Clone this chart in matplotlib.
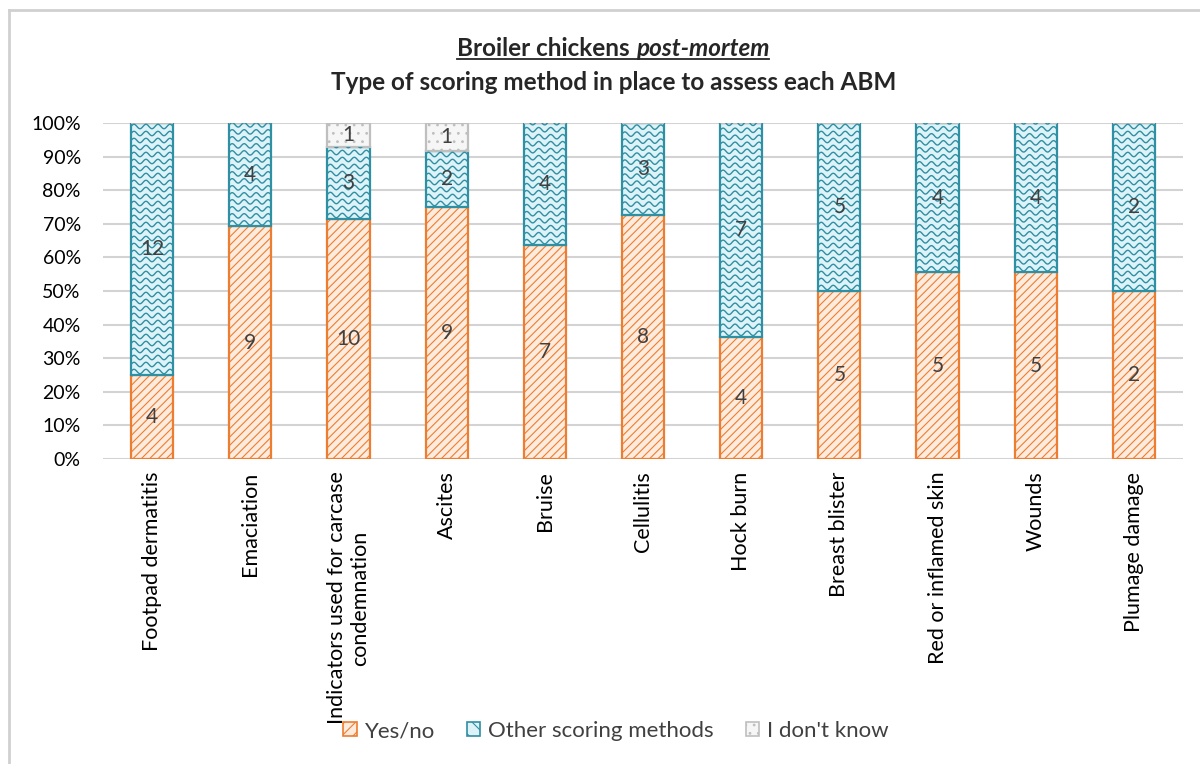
import numpy as np
import matplotlib
matplotlib.use("Agg")
import matplotlib.pyplot as plt
from matplotlib.patches import Patch
from matplotlib.collections import LineCollection
from matplotlib.lines import Line2D

plt.rcParams['font.family'] = ['Lato', 'DejaVu Sans']
plt.rcParams['hatch.linewidth'] = 0.8

categories = [
    "Footpad dermatitis", "Emaciation", "Indicators used for carcase\ncondemnation",
    "Ascites", "Bruise", "Cellulitis", "Hock burn", "Breast blister",
    "Red or inflamed skin", "Wounds", "Plumage damage",
]
yes_no = [4, 9, 10, 9, 7, 8, 4, 5, 5, 5, 2]
other_methods = [12, 4, 3, 2, 4, 3, 7, 5, 4, 4, 2]
dont_know = [0, 0, 1, 1, 0, 0, 0, 0, 0, 0, 0]
series_names = ["Yes/no", "Other scoring methods", "I don't know"]
y_ticks = [0, 10, 20, 30, 40, 50, 60, 70, 80, 90, 100]

ORANGE = "#ED7D31"
ORANGE_FILL = "#FDEBDD"
TEAL = "#2F8FA3"
TEAL_FILL = "#DDF3F8"
GREY = "#BFBFBF"
GREY_FILL = "#F6F6F6"
TEXT = "#404040"
TITLE = "#262626"

counts = np.array([yes_no, other_methods, dont_know], dtype=float)
totals = counts.sum(axis=0)
shares = counts / totals * 100

fig = plt.figure(figsize=(12, 7.64), dpi=100)
ax = fig.add_axes([103 / 1200, 1 - 459 / 764, 1080 / 1200, 336 / 764])

x = np.arange(len(categories))
width = 0.43
bottoms = np.zeros(len(categories))
styles = [
    dict(facecolor=ORANGE_FILL, edgecolor=ORANGE, hatch="////"),
    dict(facecolor=TEAL_FILL, edgecolor=TEAL, hatch=None),
    dict(facecolor=GREY_FILL, edgecolor=GREY, hatch=".."),
]
containers = []
for i in range(3):
    bc = ax.bar(x, shares[i], width, bottom=bottoms, linewidth=1.6,
                zorder=3, **styles[i])
    containers.append(bc)
    for j in range(len(categories)):
        if counts[i, j] > 0:
            ax.text(x[j], bottoms[j] + shares[i, j] / 2, f"{int(counts[i, j])}",
                    ha="center", va="center", fontsize=15, color=TEXT, zorder=5)
    bottoms += shares[i]

ax.set_xlim(-0.5, len(categories) - 0.5)
ax.set_ylim(0, 100)
ax.set_yticks(y_ticks)
ax.set_yticklabels([f"{t}%" for t in y_ticks])
ax.set_xticks(x)
ax.set_xticklabels(categories, rotation=90, fontsize=15.5, color="#000000")
ax.tick_params(axis="y", length=0, pad=16, labelsize=14, labelcolor="#000000")
ax.tick_params(axis="x", length=0, pad=9)
ax.grid(axis="y", color="#D3D3D3", linewidth=1.5, zorder=0)
ax.set_axisbelow(True)
for s in ax.spines.values():
    s.set_visible(False)


def wave_segments(x0, x1, y0, y1, period=12.0, amp=2.2, spacing=7.0):
    """Wavy hatch lines inside a pixel-space box."""
    xs = np.arange(x0, x1 + 1.0, 0.5)
    segs = []
    yy = y0 + spacing / 2
    while yy < y1 + spacing:
        ys = yy + amp * np.sin(2 * np.pi * (xs - x0) / period)
        segs.append(np.column_stack([xs, ys]))
        yy += spacing
    return segs


# wavy texture for the "other scoring methods" segments
to_px = ax.transData
to_data = ax.transData.inverted()
for patch in containers[1].patches:
    (px0, py0), (px1, py1) = to_px.transform([(patch.get_x(), patch.get_y()),
                                             (patch.get_x() + patch.get_width(),
                                              patch.get_y() + patch.get_height())])
    segs = [to_data.transform(s) for s in wave_segments(px0, px1, py0, py1)]
    lc = LineCollection(segs, colors=TEAL, linewidths=1.0, zorder=3.5)
    ax.add_collection(lc, autolim=False)
    lc.set_clip_path(patch)

# title
t1a = fig.text(0.5, 1 - 48 / 764, "Broiler chickens ", ha="right", va="center",
               fontsize=17.5, fontweight="bold", color=TITLE)
t1b = fig.text(0.5, 1 - 48 / 764, "post-mortem", ha="left", va="center",
               fontsize=17.5, fontweight="bold", style="italic", color=TITLE)
fig.text(0.511, 1 - 82 / 764, "Type of scoring method in place to assess each ABM",
         ha="center", va="center", fontsize=17.5, fontweight="bold", color=TITLE)

renderer = fig.canvas.get_renderer()
ea = t1a.get_window_extent(renderer)
eb = t1b.get_window_extent(renderer)
shift = (1200 * 0.511 - (ea.x0 + eb.x1) / 2) / 1200
t1a.set_x(0.5 + shift)
t1b.set_x(0.5 + shift)
ea = t1a.get_window_extent(renderer)
eb = t1b.get_window_extent(renderer)
uy = ea.y0 + 1
fig.add_artist(Line2D([ea.x0 / 1200, eb.x1 / 1200], [uy / 764, uy / 764],
                      color=TITLE, linewidth=1.3))

# legend
handles = [Patch(facecolor=ORANGE_FILL, edgecolor=ORANGE, hatch="///", linewidth=1.2),
           Patch(facecolor=TEAL_FILL, edgecolor=TEAL, hatch="\\\\", linewidth=1.2),
           Patch(facecolor=GREY_FILL, edgecolor=GREY, hatch="..", linewidth=1.2)]
fig.legend(handles, series_names, loc="center", bbox_to_anchor=(616 / 1200, 1 - 731 / 764),
           ncol=3, frameon=False, fontsize=16, handlelength=0.6, handleheight=0.6,
           handletextpad=0.35, columnspacing=1.45, labelcolor="#404040")

# chart area border
fig.add_artist(Line2D([9 / 1200, 1.0], [1 - 10 / 764, 1 - 10 / 764], color="#D0D0D0", linewidth=2))
fig.add_artist(Line2D([9 / 1200, 9 / 1200], [0, 1 - 10 / 764], color="#D0D0D0", linewidth=2))

fig.savefig("out.png", dpi=100)
